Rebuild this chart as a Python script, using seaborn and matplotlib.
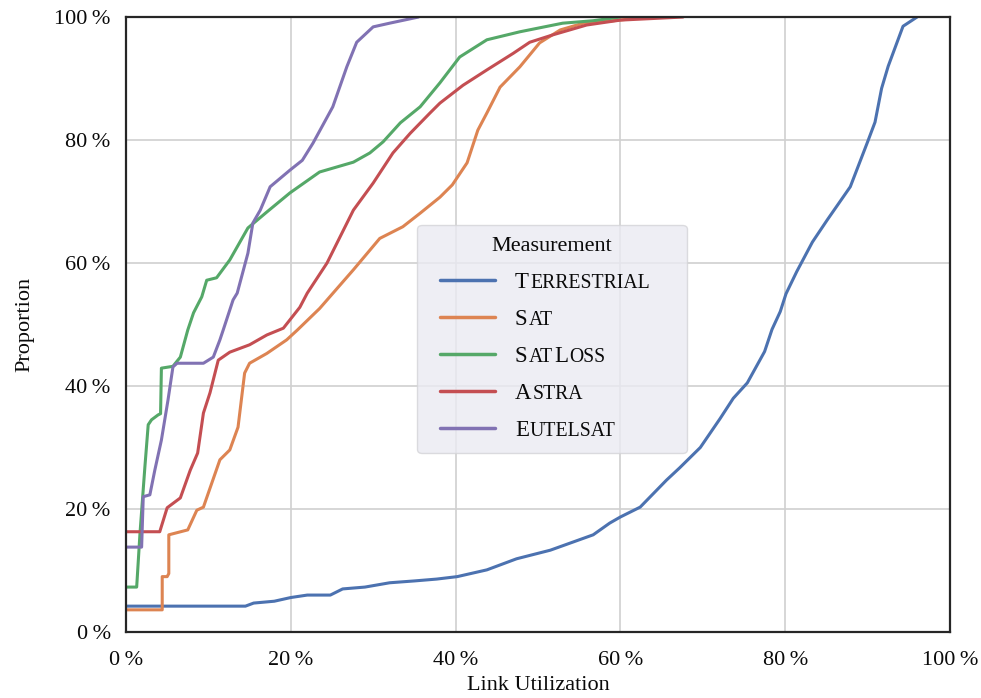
import matplotlib
matplotlib.use("Agg")
import matplotlib.pyplot as plt
from matplotlib.ticker import FuncFormatter, MultipleLocator
from matplotlib.offsetbox import HPacker, TextArea, DrawingArea
import seaborn as sns
import pandas as pd

# ---------------- data (values in percent) ----------------
series_names = ["Terrestrial", "Sat", "SatLoss", "Astra", "Eutelsat"]

terr_x = [0, 14.5, 15.5, 18, 20, 22, 24.8, 26.3, 29, 32, 35, 37.7, 40.2, 43.8, 47.4,
          51.5, 56.7, 58.7, 60, 62.4, 65.6, 67.2, 69.7, 72.1, 73.7, 75.4, 77.5, 78.4,
          79.4, 80.1, 81.4, 83.3, 85.1, 87.9, 90.0, 90.9, 91.7, 92.5, 94.3, 96.0]
terr_y = [4.2, 4.2, 4.7, 5.0, 5.6, 6.0, 6.0, 7.0, 7.3, 8.0, 8.3, 8.6, 9.0, 10.1, 11.9,
          13.3, 15.8, 17.7, 18.7, 20.3, 24.7, 26.7, 30.0, 34.7, 38.0, 40.5, 45.6, 49.2,
          52.1, 55.0, 58.6, 63.4, 67.0, 72.4, 79.7, 82.9, 88.4, 92.0, 98.5, 100]

sat_x = [0, 4.4, 4.4, 5.0, 5.2, 5.2, 7.5, 8.6, 9.4, 11.4, 12.6, 13.6, 14.4, 15.0, 17.1,
         19.5, 20.8, 23.5, 27.6, 30.8, 33.6, 35.7, 38.1, 39.6, 41.4, 42.7, 43.8, 45.4,
         47.8, 50.2, 52.7, 55.5, 58.4, 62, 65]
sat_y = [3.6, 3.6, 9.0, 9.0, 9.5, 15.8, 16.6, 19.8, 20.3, 28.0, 29.6, 33.3, 42.1, 43.7,
         45.3, 47.5, 49.1, 52.6, 58.9, 64.0, 65.9, 68.1, 70.7, 72.7, 76.3, 81.6, 84.4,
         88.6, 91.9, 95.8, 97.9, 99.0, 99.3, 99.8, 100]

satloss_x = [0, 1.3, 1.7, 2.3, 2.7, 3.1, 3.9, 4.2, 4.3, 5.7, 6.6, 7.5, 8.2, 9.2, 9.8,
             11.0, 12.6, 14.8, 17.1, 19.9, 23.5, 27.6, 29.6, 31.2, 33.3, 35.7, 38.1,
             40.5, 43.8, 47.8, 53.0, 56.7, 60]
satloss_y = [7.3, 7.3, 16, 26.9, 33.7, 34.5, 35.3, 35.5, 42.9, 43.2, 44.7, 49.1, 51.9,
             54.5, 57.2, 57.6, 60.5, 65.7, 68.3, 71.4, 74.8, 76.4, 77.9, 79.7, 82.8,
             85.4, 89.3, 93.5, 96.3, 97.6, 99.0, 99.4, 100]

astra_x = [0, 4.1, 5.0, 6.6, 7.8, 8.7, 9.4, 10.2, 11.2, 12.6, 15.0, 17.1, 19.1, 21.1,
           22.0, 24.4, 27.6, 30.0, 32.4, 34.5, 36.9, 38.1, 40.9, 43.8, 47.0, 49.0,
           51.8, 55.9, 60.0, 67.6]
astra_y = [16.3, 16.3, 20.2, 21.8, 26.3, 29.1, 35.6, 38.9, 44.2, 45.5, 46.7, 48.3,
           49.4, 52.8, 55.1, 60.0, 68.6, 73.0, 77.9, 81.1, 84.4, 86.0, 88.9, 91.4,
           94.1, 95.9, 97.1, 98.7, 99.5, 100]

eutel_x = [0, 1.9, 2.1, 2.9, 3.5, 4.3, 5.1, 5.7, 6.2, 9.4, 10.6, 11.4, 11.8, 13.0,
           13.5, 14.8, 15.4, 16.3, 17.5, 19.9, 21.4, 22.7, 25.1, 26.8, 28.0, 30.0,
           32.0, 34.8, 35.5]
eutel_y = [13.8, 13.8, 22.0, 22.3, 26.3, 31.2, 37.7, 43.1, 43.7, 43.7, 44.7, 47.5,
           49.1, 54.0, 55.1, 61.6, 66.5, 68.6, 72.4, 75.1, 76.7, 79.5, 85.4, 91.9,
           95.9, 98.4, 99.0, 99.8, 100]

# ---------------- build long-form table ----------------
frames = []
for name, xs, ys in zip(series_names,
                        [terr_x, sat_x, satloss_x, astra_x, eutel_x],
                        [terr_y, sat_y, satloss_y, astra_y, eutel_y]):
    frames.append(pd.DataFrame({"Link Utilization": xs, "Proportion": ys,
                                "Measurement": name}))
df = pd.concat(frames, ignore_index=True)

# ---------------- style ----------------
sns.set_theme(style="whitegrid")
plt.rcParams["font.family"] = ["Liberation Serif", "DejaVu Serif"]
plt.rcParams["axes.edgecolor"] = "#262626"
plt.rcParams["axes.linewidth"] = 1.6
plt.rcParams["grid.color"] = "#d0d0d0"
plt.rcParams["grid.linewidth"] = 1.2

palette = sns.color_palette("deep", 5)

fig, ax = plt.subplots(figsize=(9.81, 6.98), dpi=100)
fig.subplots_adjust(left=0.1284, right=0.9684, bottom=0.0946, top=0.9756)

sns.lineplot(data=df, x="Link Utilization", y="Proportion", hue="Measurement",
             hue_order=series_names, palette=palette, sort=False, estimator=None,
             linewidth=2.2, legend=False, ax=ax)

ax.set_xlim(0, 100)
ax.set_ylim(0, 100)
ax.xaxis.set_major_locator(MultipleLocator(20))
ax.yaxis.set_major_locator(MultipleLocator(20))
fmt = FuncFormatter(lambda v, p: f"{v:.0f}\u2009%")
ax.xaxis.set_major_formatter(fmt)
ax.yaxis.set_major_formatter(fmt)
ax.tick_params(axis="both", length=0, labelsize=16, colors="#0a0a0a")
ax.tick_params(axis="x", pad=14)
ax.tick_params(axis="y", pad=11)
for s in ax.spines.values():
    s.set_visible(True)
    s.set_color("#262626")
    s.set_linewidth(1.6)
ax.set_xlabel("Link Utilization", fontsize=16, labelpad=4, color="#0a0a0a")
ax.set_ylabel("Proportion", fontsize=16, labelpad=14, color="#0a0a0a")

# ---------------- legend with small caps ----------------
handles = ax.get_lines()[:5]
leg = ax.legend(handles, series_names, title="Measurement", loc="center",
                bbox_to_anchor=(0.517, 0.476), fontsize=16, title_fontsize=16,
                handlelength=2.45, handletextpad=0.9, labelspacing=0.72,
                borderpad=0.55, frameon=True, fancybox=True, framealpha=0.8,
                facecolor="#EAEAF2", edgecolor="#d4d4d8")
leg.get_frame().set_linewidth(1.0)
leg.get_title().set_color("#0a0a0a")
for line in leg.get_lines():
    line.set_linewidth(2.5)


def small_caps_box(word, big=16.5, small=14.2, right_pad=18):
    runs = []
    for ch in word:
        is_big = ch.isupper()
        if runs and runs[-1][0] == is_big:
            runs[-1][1] += ch
        else:
            runs.append([is_big, ch])
    children = []
    for is_big, txt in runs:
        children.append(TextArea(txt.upper(),
                                 textprops=dict(fontsize=big if is_big else small,
                                                color="#0a0a0a",
                                                family=["Liberation Serif"])))
    inner = HPacker(children=children, align="baseline", pad=0, sep=0.8)
    return HPacker(children=[inner, DrawingArea(right_pad, 1)], align="baseline",
                   pad=0, sep=0)


for col in leg._legend_handle_box.get_children():
    for item in col.get_children():
        kids = item.get_children()
        label = kids[1]._text.get_text()
        box = small_caps_box(label)
        box.set_figure(fig)
        kids[1] = box
        left = HPacker(children=[DrawingArea(8, 1), kids[0]], align="center",
                       pad=0, sep=0)
        left.set_figure(fig)
        kids[0] = left

fig.savefig("out.png", dpi=100)
